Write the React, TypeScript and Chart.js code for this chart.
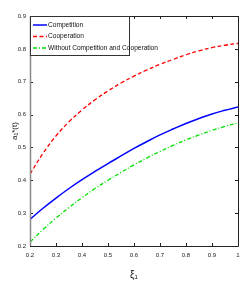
import React, { useEffect, useRef } from "react";
import { Chart, registerables } from "chart.js";

Chart.register(...registerables);

const xValues = [0.2, 0.25, 0.3, 0.35, 0.4, 0.45, 0.5, 0.55, 0.6, 0.65, 0.7, 0.75, 0.8, 0.85, 0.9, 0.95, 1.0];
const competition = [0.281, 0.315, 0.346, 0.375, 0.402, 0.427, 0.451, 0.474, 0.497, 0.518, 0.538, 0.556, 0.573, 0.588, 0.602, 0.613, 0.623];
const cooperation = [0.419, 0.482, 0.535, 0.578, 0.614, 0.645, 0.672, 0.696, 0.717, 0.736, 0.753, 0.768, 0.782, 0.794, 0.804, 0.811, 0.817];
const withoutBoth = [0.212, 0.25, 0.285, 0.317, 0.347, 0.375, 0.4, 0.424, 0.447, 0.468, 0.488, 0.506, 0.523, 0.538, 0.552, 0.564, 0.575];
const seriesNames = ["Competition", "Cooperation", "Without Competition and Cooperation"];
const xTickValues = [0.2, 0.3, 0.4, 0.5, 0.6, 0.7, 0.8, 0.9, 1.0];
const xTickLabels = ["0.2", "0.3", "0.4", "0.5", "0.6", "0.7", "0.8", "0.9", "1"];
const yTickValues = [0.2, 0.3, 0.4, 0.5, 0.6, 0.7, 0.8, 0.9];
const yTickLabels = ["0.2", "0.3", "0.4", "0.5", "0.6", "0.7", "0.8", "0.9"];
const xTitle = "ξ₁";
const yTitle = "a₁*(t)";

const FONT = "'Liberation Sans Narrow', 'Liberation Sans', Arial, sans-serif";

const boxPlugin = {
  id: "boxPlugin",
  afterDatasetsDraw(chart: any) {
    const { ctx, chartArea: a, scales } = chart;
    const xs = scales.x;
    const ys = scales.y;
    ctx.save();
    ctx.strokeStyle = "#222";
    ctx.lineWidth = 1;
    ctx.beginPath();
    ctx.rect(Math.round(a.left) + 0.5, Math.round(a.top) + 0.5, Math.round(a.right - a.left), Math.round(a.bottom - a.top));
    ctx.stroke();
    const t = 3;
    ctx.beginPath();
    xTickValues.forEach((v) => {
      const px = Math.round(xs.getPixelForValue(v)) + 0.5;
      ctx.moveTo(px, a.bottom);
      ctx.lineTo(px, a.bottom - t);
      ctx.moveTo(px, a.top);
      ctx.lineTo(px, a.top + t);
    });
    yTickValues.forEach((v) => {
      const py = Math.round(ys.getPixelForValue(v)) + 0.5;
      ctx.moveTo(a.left, py);
      ctx.lineTo(a.left + t, py);
      ctx.moveTo(a.right, py);
      ctx.lineTo(a.right - t, py);
    });
    ctx.stroke();
    ctx.strokeStyle = "#888";
    ctx.lineWidth = 1.5;
    ctx.beginPath();
    ctx.moveTo(Math.round(a.left) + 0.5, a.top);
    ctx.lineTo(Math.round(a.left) + 0.5, a.bottom);
    ctx.stroke();

    // legend box
    const lx = a.left;
    const ly = a.top;
    const lw = 99;
    const lh = 39;
    ctx.fillStyle = "#fff";
    ctx.fillRect(lx, ly, lw, lh);
    ctx.strokeStyle = "#333";
    ctx.lineWidth = 1;
    ctx.strokeRect(lx + 0.5, ly + 0.5, lw, lh);
    ctx.font = `6.6px ${FONT}`;
    ctx.textBaseline = "middle";
    ctx.textAlign = "left";
    chart.data.datasets.forEach((ds: any, i: number) => {
      const yy = ly + 9 + i * 11.5;
      ctx.strokeStyle = ds.borderColor;
      ctx.lineWidth = ds.borderWidth;
      ctx.setLineDash(ds.borderDash || []);
      ctx.beginPath();
      ctx.moveTo(lx + 3, yy);
      ctx.lineTo(lx + 17, yy);
      ctx.stroke();
      ctx.setLineDash([]);
      ctx.fillStyle = "#111";
      ctx.fillText(ds.label, lx + 18, yy);
    });
    ctx.restore();
  },
};

export default function App() {
  const ref = useRef<HTMLCanvasElement>(null);
  useEffect(() => {
    document.body.style.margin = "0";
    const canvas = ref.current!;
    const mk = (vals: number[]) => xValues.map((x, i) => ({ x, y: vals[i] }));
    const chart = new Chart(canvas, {
      type: "line",
      data: {
        datasets: [
          { label: seriesNames[0], data: mk(competition), borderColor: "#0000ff", borderWidth: 1.5, pointRadius: 0, tension: 0.4, fill: false },
          { label: seriesNames[1], data: mk(cooperation), borderColor: "#ff0000", borderWidth: 1.3, borderDash: [4, 2.5], pointRadius: 0, tension: 0.4, fill: false },
          { label: seriesNames[2], data: mk(withoutBoth), borderColor: "#00e000", borderWidth: 1.3, borderDash: [4, 2, 1, 2], pointRadius: 0, tension: 0.4, fill: false },
        ],
      },
      options: {
        animation: false,
        responsive: false,
        layout: { padding: { top: 16, right: 10, left: 0, bottom: 0 } },
        plugins: { legend: { display: false }, tooltip: { enabled: false } },
        scales: {
          x: {
            type: "linear",
            min: 0.2,
            max: 1,
            afterBuildTicks: (s: any) => {
              s.ticks = xTickValues.map((v) => ({ value: v }));
            },
            afterFit: (s: any) => {
              s.height = 35;
            },
            grid: { display: false, drawTicks: false },
            border: { display: false },
            ticks: {
              padding: 6,
              maxRotation: 0,
              autoSkip: false,
              font: { size: 6, family: FONT },
              color: "#222",
              callback: (v: any) => {
                const i = xTickValues.findIndex((t) => Math.abs(t - v) < 1e-6);
                return i >= 0 ? xTickLabels[i] : "";
              },
            },
            title: { display: true, text: xTitle, font: { size: 10, family: FONT }, color: "#111", padding: { top: 2, bottom: 0 } },
          },
          y: {
            type: "linear",
            min: 0.2,
            max: 0.9,
            afterBuildTicks: (s: any) => {
              s.ticks = yTickValues.map((v) => ({ value: v }));
            },
            afterFit: (s: any) => {
              s.width = 30;
            },
            grid: { display: false, drawTicks: false },
            border: { display: false },
            ticks: {
              padding: 4,
              autoSkip: false,
              font: { size: 6, family: FONT },
              color: "#222",
              callback: (v: any) => {
                const i = yTickValues.findIndex((t) => Math.abs(t - v) < 1e-6);
                return i >= 0 ? yTickLabels[i] : "";
              },
            },
            title: { display: true, text: yTitle, font: { size: 8, family: FONT }, color: "#111", padding: { top: 10, bottom: 0 } },
          },
        },
      },
      plugins: [boxPlugin],
    });
    return () => chart.destroy();
  }, []);
  return (
    <div style={{ width: 248, height: 281, background: "#fff" }}>
      <canvas ref={ref} width={248} height={281} style={{ display: "block" }} />
    </div>
  );
}
